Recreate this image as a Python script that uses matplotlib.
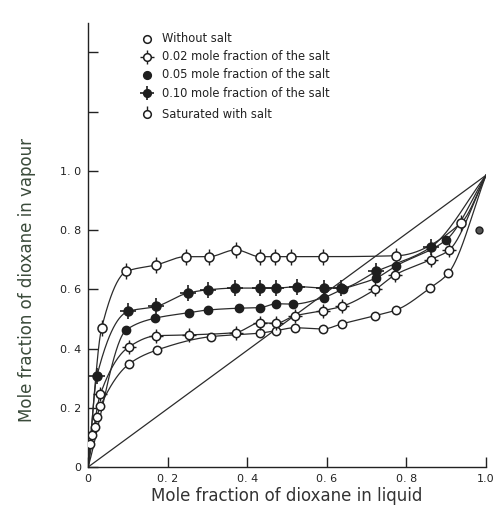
import numpy as np
import matplotlib.pyplot as plt

# liquid / vapour mole fractions of dioxane
x_none = [0.005, 0.009, 0.017, 0.022, 0.031, 0.103, 0.173, 0.308, 0.432, 0.471, 0.519, 0.591, 0.637, 0.722, 0.774, 0.859, 0.905]
y_none = [0.078, 0.108, 0.136, 0.169, 0.206, 0.348, 0.395, 0.440, 0.452, 0.460, 0.470, 0.466, 0.483, 0.511, 0.530, 0.604, 0.654]
x_none_extra = [0.982]
y_none_extra = [0.800]

x_002 = [0.031, 0.103, 0.171, 0.254, 0.371, 0.432, 0.471, 0.519, 0.591, 0.637, 0.722, 0.772, 0.861, 0.906]
y_002 = [0.247, 0.406, 0.443, 0.446, 0.454, 0.487, 0.485, 0.510, 0.528, 0.542, 0.600, 0.649, 0.700, 0.731]

x_005 = [0.096, 0.167, 0.254, 0.301, 0.378, 0.432, 0.473, 0.515, 0.592, 0.640, 0.724, 0.774, 0.900]
y_005 = [0.463, 0.502, 0.521, 0.530, 0.536, 0.538, 0.551, 0.550, 0.572, 0.600, 0.638, 0.679, 0.767]

x_010 = [0.022, 0.100, 0.171, 0.250, 0.300, 0.370, 0.432, 0.473, 0.525, 0.594, 0.635, 0.724, 0.861]
y_010 = [0.307, 0.525, 0.542, 0.587, 0.598, 0.604, 0.604, 0.604, 0.609, 0.604, 0.604, 0.660, 0.742]

x_sat = [0.034, 0.096, 0.171, 0.245, 0.303, 0.371, 0.432, 0.469, 0.511, 0.591, 0.774, 0.938]
y_sat = [0.470, 0.660, 0.682, 0.710, 0.710, 0.733, 0.710, 0.710, 0.710, 0.710, 0.713, 0.825]

labels = ['Without salt', '0.02 mole fraction of the salt', '0.05 mole fraction of the salt',
          '0.10 mole fraction of the salt', 'Saturated with salt']


def pchip(xs, ys, xn):
    # monotone cubic through the points, only used to draw the smooth curves
    xs = np.asarray(xs, float)
    ys = np.asarray(ys, float)
    h = np.diff(xs)
    d = np.diff(ys) / h
    m = np.zeros_like(ys)
    for i in range(1, len(xs) - 1):
        if d[i - 1] * d[i] > 0:
            w1 = 2 * h[i] + h[i - 1]
            w2 = h[i] + 2 * h[i - 1]
            m[i] = (w1 + w2) / (w1 / d[i - 1] + w2 / d[i])
    m[0] = d[0]
    m[-1] = d[-1]
    k = np.clip(np.searchsorted(xs, xn) - 1, 0, len(xs) - 2)
    t = (xn - xs[k]) / h[k]
    h00 = 2 * t**3 - 3 * t**2 + 1
    h10 = t**3 - 2 * t**2 + t
    h01 = -2 * t**3 + 3 * t**2
    h11 = t**3 - t**2
    return h00 * ys[k] + h10 * h[k] * m[k] + h01 * ys[k + 1] + h11 * h[k] * m[k + 1]


def curve(ax, xs, ys):
    xx = np.concatenate([[0.0], xs, [1.0]])
    yy = np.concatenate([[0.0], ys, [0.985]])
    xn = np.linspace(0, 1, 600)
    ax.plot(xn, pchip(xx, yy, xn), color='#2b2b2b', lw=0.9, zorder=2)


fig = plt.figure(figsize=(4.98, 5.09), dpi=100)
ax = fig.add_axes([0.177, 0.0825, 0.799, 0.873])

ax.plot([0, 1], [0, 0.985], color='#2b2b2b', lw=0.9, zorder=2)
for xs, ys in [(x_none, y_none), (x_002, y_002), (x_005, y_005), (x_010, y_010), (x_sat, y_sat)]:
    curve(ax, xs, ys)

dk = '#1e1e1e'
ms = 6
# without salt
ax.plot(x_none, y_none, 'o', ms=ms, mfc='white', mec=dk, mew=1.1, zorder=3)
ax.plot(x_none_extra, y_none_extra, 'o', ms=5, mfc='#555555', mec=dk, mew=1.0, zorder=3)
# 0.02 : open with spikes
ax.plot(x_002, y_002, '+', ms=10, mec=dk, mew=1.0, zorder=3)
ax.plot(x_002, y_002, 'o', ms=ms, mfc='white', mec=dk, mew=1.1, zorder=4)
# 0.05 : filled
ax.plot(x_005, y_005, 'o', ms=ms, mfc=dk, mec=dk, zorder=3)
# 0.10 : filled with spikes
ax.plot(x_010, y_010, '+', ms=11, mec=dk, mew=1.2, zorder=3)
ax.plot(x_010, y_010, 'o', ms=ms + 0.5, mfc=dk, mec=dk, zorder=4)
# saturated : open with short stalks
ax.plot(x_sat, y_sat, '|', ms=12, mec=dk, mew=1.0, zorder=3)
ax.plot(x_sat, y_sat, 'o', ms=ms + 0.5, mfc='white', mec=dk, mew=1.1, zorder=4)

leg_x = 0.148
leg_y = [1.445, 1.385, 1.324, 1.262, 1.19]
for yv, lab, kind in zip(leg_y, labels, range(5)):
    if kind == 1:
        ax.plot([leg_x], [yv], '+', ms=10, mec=dk, mew=1.0, clip_on=False)
    if kind == 3:
        ax.plot([leg_x], [yv], '+', ms=10, mec=dk, mew=1.2, clip_on=False)
    if kind == 4:
        ax.plot([leg_x], [yv + 0.01], '|', ms=9, mec=dk, mew=1.0, clip_on=False)
    face = dk if kind in (2, 3) else 'white'
    ax.plot([leg_x], [yv], 'o', ms=5.5, mfc=face, mec=dk, mew=1.1, clip_on=False, zorder=4)
    ax.text(leg_x + 0.037, yv, lab, fontsize=8.3, va='center', ha='left', color='#222222')

ax.set_xlim(0, 1.0)
ax.set_ylim(0, 1.5)
ax.spines['top'].set_visible(False)
ax.spines['right'].set_visible(False)
for s in ('left', 'bottom'):
    ax.spines[s].set_color('#222222')
    ax.spines[s].set_linewidth(1.0)

ax.set_xticks([0, 0.2, 0.4, 0.6, 0.8, 1.0])
ax.set_xticklabels(['0', '0. 2', '0. 4', '0. 6', '0. 8', '1.0'])
ax.set_yticks([0, 0.2, 0.4, 0.6, 0.8, 1.0, 1.2, 1.4])
ax.set_yticklabels(['0', '0. 2', '0. 4', '0. 6', '0. 8', '1. 0', '', ''])
ax.tick_params(direction='in', length=7, width=1.0, colors='#222222', labelsize=8, pad=5)

ax.set_xlabel('Mole fraction of dioxane in liquid', fontsize=12, color='#333333', labelpad=2)
ax.set_ylabel('Mole fraction of dioxane in vapour', fontsize=12, color='#3a4a3a')
ax.yaxis.set_label_coords(-0.132, 0.42)

fig.savefig('out.png', dpi=100)
